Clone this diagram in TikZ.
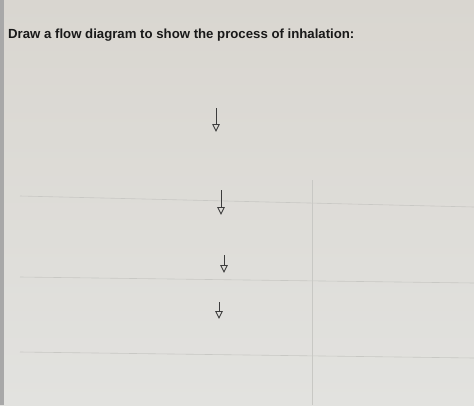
\documentclass[tikz,border=0pt]{standalone}
\usepackage{fontspec}
\setmainfont{Liberation Sans}
\usetikzlibrary{arrows.meta}
\definecolor{paper}{RGB}{217,214,208}
\definecolor{paperlight}{RGB}{226,226,223}
\definecolor{edge}{RGB}{168,168,168}
\definecolor{rule}{RGB}{200,200,196}
\definecolor{ink}{RGB}{60,60,60}
\tikzset{
    flowarrow/.style={draw=ink, line width=0.9pt, -{Triangle[open, length=8pt, width=7.5pt]}},
    faintrule/.style={draw=rule, line width=0.6pt}
}
\begin{document}
\begin{tikzpicture}[x=1pt, y=-1pt]
            \useasboundingbox (0, 0) rectangle (474, 405);
            \shade[top color=paper, bottom color=paperlight] (0, 0) rectangle (474, 405);
            \fill[edge] (0, 0) rectangle (4, 405);

%            faint table lines seen through the page
            \draw[faintrule] (20, 196) -- (474, 207);
            \draw[faintrule] (20, 277) -- (474, 283);
            \draw[faintrule] (20, 352) -- (474, 358);
            \draw[faintrule] (312, 180) -- (312, 405);

            \node[anchor=base west, font=\bfseries\fontsize{13.2}{16}\selectfont, text=black!90, inner sep=0pt]
                (title) at (8, 38) {Draw a flow diagram to show the process of inhalation:};

            \coordinate (s1) at (216, 108);  \coordinate (e1) at (216, 132);
            \coordinate (s2) at (221, 190);  \coordinate (e2) at (221, 215);
            \coordinate (s3) at (224, 255);  \coordinate (e3) at (224, 273);
            \coordinate (s4) at (219, 302);  \coordinate (e4) at (219, 319);

            \draw[flowarrow] (s1) -- (e1);
            \draw[flowarrow] (s2) -- (e2);
            \draw[flowarrow] (s3) -- (e3);
            \draw[flowarrow] (s4) -- (e4);
        \end{tikzpicture}
\end{document}
